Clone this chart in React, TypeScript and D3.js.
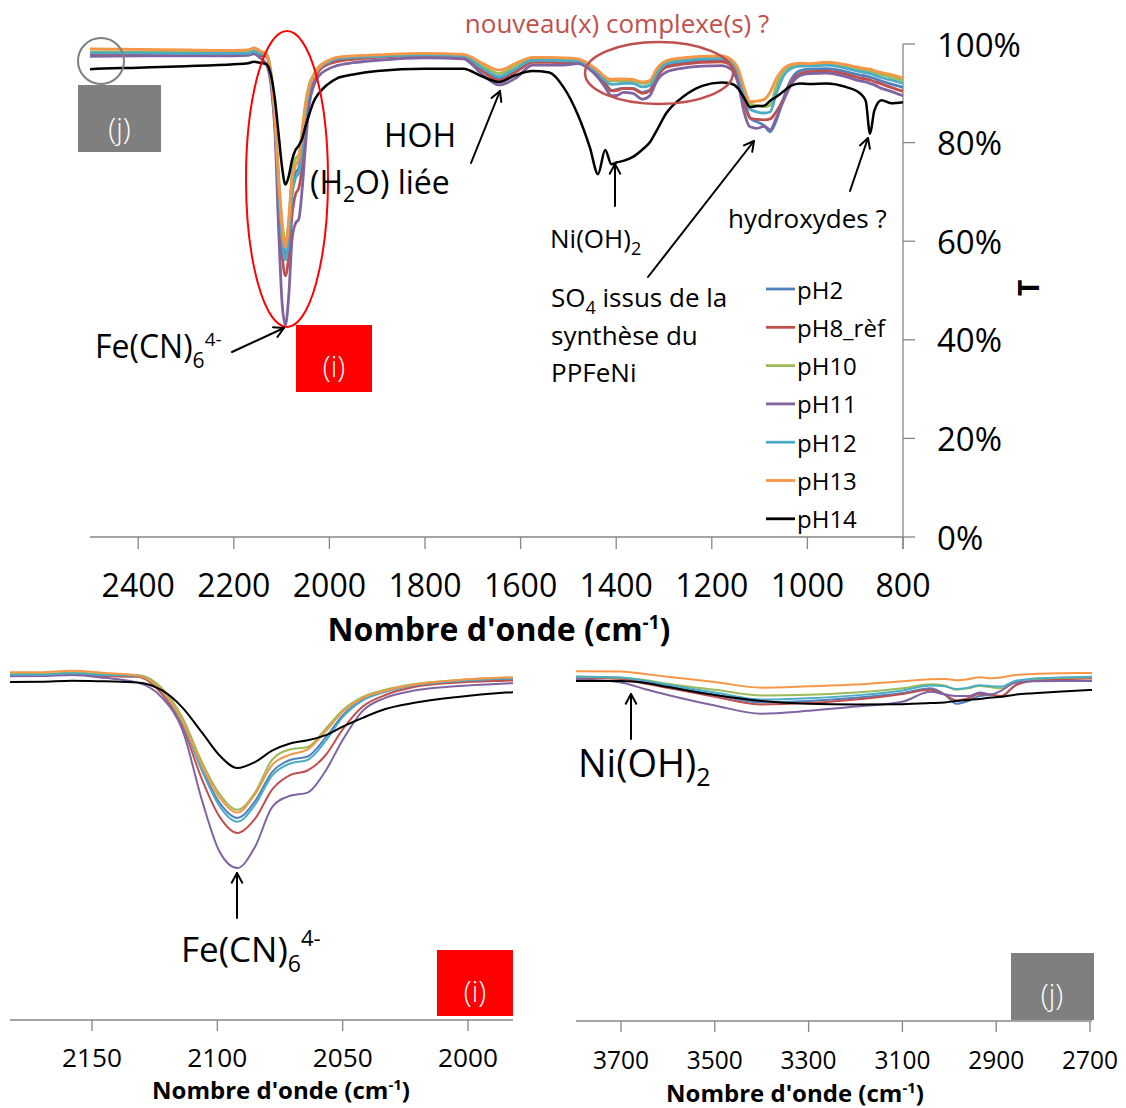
import React from "react";
import * as d3 from "d3";

// Wavenumber grid (cm-1), shared by all series
const wavenumbers = [
  3800, 3700, 3650, 3600, 3500, 3400, 3300, 3200, 3100, 3040, 3010, 2985, 2960, 2935, 2910, 2890, 2860, 2820, 2760, 2700,
  2600, 2500, 2400, 2300, 2200, 2170, 2158, 2145,
  2132, 2122, 2114, 2106, 2099, 2092, 2085, 2078, 2071, 2064, 2057, 2050, 2042, 2033, 2022, 2005, 1985,
  1950, 1900, 1800, 1720, 1680, 1645, 1610, 1575, 1540, 1510,
  1480, 1455, 1438, 1423, 1410, 1398, 1385, 1365, 1345, 1330, 1315, 1295, 1260, 1220, 1180, 1160, 1145, 1132, 1120, 1105, 1090, 1078, 1065, 1050, 1035, 1015, 995, 960, 920, 890, 878, 869, 860, 845, 825, 800,
];

// Transmittance (%) per series
const pH2 = [
  97.3, 97.0, 96.0, 94.8, 92.4, 90.2, 90.6, 91.5, 92.9, 94.2, 92.5, 89.8, 90.6, 92.0, 92.3, 91.8, 95.0, 96.6, 97.0, 97.2,
  97.6, 98.0, 98.0, 98.0, 98.0, 98.0, 98.4, 97.9,
  97.8, 93.2, 84.5, 71.0, 61.5, 57.3, 62.0, 70.5, 73.8, 74.8, 80.0, 86.5, 91.0, 93.3, 95.0, 96.2, 96.9,
  97.2, 97.5, 97.7, 97.5, 94.8, 93.0, 94.6, 96.5, 96.5, 96.4,
  96.4, 95.2, 93.8, 92.0, 90.6, 90.8, 91.0, 91.0, 90.2, 90.6, 93.5, 95.6, 96.2, 96.6, 96.7, 96.0, 93.6, 88.5, 85.0, 84.2, 83.4, 82.2, 84.5, 89.0, 92.6, 94.6, 94.9, 95.0, 94.4, 93.7, 93.5, 93.3, 93.0, 92.5, 91.9, 91.2,
];
const pH8 = [
  97.2, 96.9, 95.6, 94.3, 91.8, 89.6, 90.0, 91.0, 92.6, 93.8, 92.4, 90.8, 91.4, 92.6, 92.4, 92.0, 95.0, 96.4, 96.8, 97.0,
  97.4, 97.8, 97.8, 97.8, 97.8, 97.9, 98.2, 97.7,
  97.5, 92.5, 83.5, 68.0, 57.5, 53.0, 57.0, 65.5, 69.5, 70.8, 75.0, 82.5, 89.0, 92.3, 94.5, 95.8, 96.4,
  96.9, 97.3, 97.6, 97.4, 94.5, 92.6, 94.3, 96.3, 96.3, 96.2,
  96.3, 95.1, 93.7, 91.9, 90.5, 90.6, 91.0, 90.9, 90.0, 90.5, 93.3, 95.3, 95.9, 96.3, 96.4, 95.7, 93.2, 88.0, 85.0, 84.7, 84.6, 84.8, 86.3, 88.8, 92.0, 94.0, 94.4, 94.5, 93.9, 93.1, 92.9, 92.7, 92.4, 91.9, 91.2, 90.4,
];
const pH10 = [
  97.5, 97.2, 96.6, 95.5, 93.8, 92.2, 92.4, 93.0, 94.2, 95.4, 95.0, 93.8, 94.2, 94.9, 94.5, 94.2, 96.0, 96.8, 97.2, 97.4,
  97.9, 98.4, 98.4, 98.3, 98.3, 98.3, 98.7, 98.2,
  98.0, 94.2, 86.0, 73.0, 64.0, 59.6, 64.5, 74.0, 76.8, 77.5, 82.5, 88.0, 91.8, 93.8, 95.4, 96.5, 97.2,
  97.4, 97.6, 97.9, 97.8, 95.6, 94.0, 95.6, 97.0, 97.0, 96.9,
  96.8, 95.6, 94.4, 93.0, 92.5, 92.6, 92.6, 92.5, 92.0, 92.3, 94.6, 96.3, 96.9, 97.3, 97.4, 96.7, 94.6, 90.0, 87.8, 87.5, 87.3, 87.6, 91.5, 94.5, 95.5, 95.8, 95.8, 96.0, 95.5, 94.9, 94.7, 94.5, 94.2, 93.8, 93.3, 92.6,
];
const pH11 = [
  96.9, 95.9, 94.0, 92.3, 89.3, 87.0, 87.8, 89.0, 90.4, 93.2, 92.5, 92.0, 92.0, 93.0, 92.5, 93.5, 95.8, 96.2, 96.3, 96.3,
  97.0, 97.5, 97.6, 97.6, 97.6, 97.7, 98.0, 97.2,
  95.9, 91.5, 82.5, 62.0, 47.5, 43.0, 49.0, 60.5, 63.6, 64.5, 70.5, 79.5, 87.8, 91.5, 93.5, 94.8, 95.6,
  96.2, 96.7, 97.2, 97.0, 93.8, 91.7, 93.1, 95.7, 95.7, 95.7,
  96.0, 94.8, 93.2, 91.2, 89.5, 89.6, 90.2, 90.0, 88.8, 89.5, 92.5, 94.3, 95.1, 95.5, 95.6, 94.9, 92.0, 86.0, 83.2, 82.9, 83.3, 82.6, 85.0, 88.5, 91.6, 93.6, 94.0, 94.1, 93.4, 92.5, 92.3, 92.0, 91.7, 91.0, 90.4, 89.5,
];
const pH12 = [
  97.6, 97.3, 96.4, 95.2, 93.0, 91.0, 91.4, 92.2, 93.6, 95.0, 94.8, 94.0, 94.4, 95.1, 94.8, 94.7, 96.3, 97.0, 97.3, 97.5,
  97.8, 98.2, 98.2, 98.1, 98.1, 98.1, 98.5, 98.0,
  97.8, 93.2, 84.5, 70.5, 60.5, 56.2, 61.0, 69.5, 72.8, 73.8, 79.0, 86.0, 90.8, 93.2, 95.0, 96.2, 97.0,
  97.3, 97.5, 97.8, 97.6, 95.1, 93.4, 95.0, 96.7, 96.7, 96.6,
  96.6, 95.4, 94.1, 92.6, 91.8, 91.9, 92.0, 92.0, 91.3, 91.6, 94.0, 96.0, 96.6, 97.0, 97.1, 96.4, 94.2, 89.5, 86.8, 86.2, 86.0, 86.2, 90.0, 93.5, 95.0, 95.5, 95.5, 95.7, 95.1, 94.4, 94.2, 94.0, 93.7, 93.2, 92.7, 92.0,
];
const pH13 = [
  99.1, 99.0, 98.3, 97.5, 96.0, 94.4, 94.8, 95.3, 96.2, 96.8, 96.9, 96.5, 96.8, 97.4, 97.1, 97.3, 98.0, 98.3, 98.5, 98.6,
  98.8, 99.0, 98.9, 98.8, 98.7, 98.8, 99.2, 98.6,
  97.9, 93.5, 85.0, 72.0, 63.0, 58.8, 64.0, 72.5, 75.3, 76.8, 81.8, 87.5, 91.5, 93.5, 95.2, 96.5, 97.3,
  97.6, 97.8, 98.1, 97.9, 96.1, 94.7, 96.1, 97.3, 97.3, 97.2,
  97.0, 95.8, 94.6, 93.3, 92.8, 92.9, 92.9, 92.8, 92.3, 92.6, 95.0, 96.6, 97.2, 97.5, 97.6, 96.9, 95.0, 91.0, 88.3, 88.4, 88.8, 90.2, 93.0, 95.0, 95.8, 96.1, 96.0, 96.3, 95.8, 95.2, 95.0, 94.9, 94.6, 94.2, 93.8, 93.1,
];
const pH14 = [
  96.3, 96.3, 95.8, 94.6, 92.3, 90.6, 89.8, 89.6, 89.7, 90.0, 90.2, 90.6, 90.9, 91.2, 91.6, 91.8, 92.4, 92.8, 93.3, 93.7,
  94.3, 94.9, 95.2, 95.5, 95.9, 96.1, 96.4, 96.2,
  95.9, 93.6, 88.8, 81.5, 75.0, 71.5, 73.2, 76.5, 78.5, 79.4, 80.8, 83.3, 85.8, 88.3, 90.0, 91.7, 93.0,
  93.8, 94.5, 95.0, 95.0, 93.4, 92.3, 93.7, 94.5, 94.2, 91.2,
  85.6, 79.0, 73.6, 78.5, 75.6, 76.0, 76.3, 77.1, 78.6, 80.0, 82.5, 86.0, 89.3, 91.5, 92.2, 92.0, 91.0, 89.0, 87.2, 87.4, 87.5, 88.5, 89.3, 90.4, 91.5, 92.0, 91.9, 92.0, 91.3, 90.0, 88.5, 81.8, 86.5, 88.6, 88.0, 88.2,
];

const seriesNames = ["pH2", "pH8_rèf", "pH10", "pH11", "pH12", "pH13", "pH14"];
const seriesColors = ["#4f81bd", "#c0504d", "#9bbb59", "#8064a2", "#4bacc6", "#f79646", "#000000"];
const seriesValues = [pH2, pH8, pH10, pH11, pH12, pH13, pH14];

const mainXTicks = [2400, 2200, 2000, 1800, 1600, 1400, 1200, 1000, 800];
const mainYTicks = [0, 20, 40, 60, 80, 100];
const zoomITicks = [2150, 2100, 2050, 2000];
const zoomJTicks = [3700, 3500, 3300, 3100, 2900, 2700];

const FONT = "'Open Sans', 'Noto Sans', sans-serif";
const AXIS = "#868686";

function Arrow({ x1, y1, x2, y2, w = 2 }: { x1: number; y1: number; x2: number; y2: number; w?: number }) {
  const a = Math.atan2(y2 - y1, x2 - x1);
  const L = 11;
  const sp = 0.5;
  const p1 = [x2 - L * Math.cos(a - sp), y2 - L * Math.sin(a - sp)];
  const p2 = [x2 - L * Math.cos(a + sp), y2 - L * Math.sin(a + sp)];
  return (
    <g stroke="#000" strokeWidth={w} fill="none" strokeLinecap="round" strokeLinejoin="round">
      <line x1={x1} y1={y1} x2={x2} y2={y2} />
      <polyline points={`${p1[0]},${p1[1]} ${x2},${y2} ${p2[0]},${p2[1]}`} />
    </g>
  );
}

export default function App() {
  const xMain = d3.scaleLinear().domain([2500, 800]).range([90.4, 903]);
  const yMain = d3.scaleLinear().domain([0, 100]).range([537, 44]);
  const xI = d3.scaleLinear().domain([2150, 2000]).range([92, 468]);
  const xJ = d3.scaleLinear().domain([3700, 2700]).range([621, 1090]);
  const yZ = d3.scaleLinear().domain([0, 100]).range([1019, 668]);

  const makeLine = (xs: d3.ScaleLinear<number, number>, ys: d3.ScaleLinear<number, number>) =>
    d3
      .line<number>()
      .x((_, i) => xs(wavenumbers[i]))
      .y((d) => ys(d))
      .curve(d3.curveMonotoneX);

  const lineMain = makeLine(xMain, yMain);
  const lineI = makeLine(xI, yZ);
  const lineJ = makeLine(xJ, yZ);

  return (
    <svg
      width={1126}
      height={1108}
      style={{ position: "absolute", left: 0, top: 0, background: "#fff" }}
      fontFamily={FONT}
    >
      <defs>
        <clipPath id="clipMain">
          <rect x={90} y={0} width={813} height={545} />
        </clipPath>
        <clipPath id="clipI">
          <rect x={10} y={600} width={503} height={420} />
        </clipPath>
        <clipPath id="clipJ">
          <rect x={576} y={600} width={516} height={420} />
        </clipPath>
      </defs>
      <rect x={0} y={0} width={1126} height={1108} fill="#fff" />

      {/* ===== MAIN CHART ===== */}
      <line x1={90} y1={537} x2={903} y2={537} stroke={AXIS} strokeWidth={1.3} />
      <line x1={903} y1={44} x2={903} y2={549} stroke={AXIS} strokeWidth={1.3} />
      {mainXTicks.map((t) => (
        <g key={t}>
          <line x1={xMain(t)} y1={537} x2={xMain(t)} y2={549} stroke={AXIS} strokeWidth={1.3} />
          <text x={xMain(t)} y={597} fontSize={32} textAnchor="middle" fill="#000">
            {t}
          </text>
        </g>
      ))}
      {mainYTicks.map((t) => (
        <g key={t}>
          <line x1={903} y1={yMain(t)} x2={915} y2={yMain(t)} stroke={AXIS} strokeWidth={1.3} />
          <text x={937} y={yMain(t)} fontSize={33} dominantBaseline="central" fill="#000">
            {t}%
          </text>
        </g>
      ))}
      <text x={499} y={641} fontSize={32} fontWeight="bold" textAnchor="middle" fill="#000">
        Nombre d'onde (cm
        <tspan dy={-12} fontSize={19}>
          -1
        </tspan>
        <tspan dy={12}>)</tspan>
      </text>
      <text transform="translate(1039,288) rotate(-90)" fontSize={28} fontWeight="bold" textAnchor="middle" fill="#000">
        T
      </text>

      <g clipPath="url(#clipMain)">
        {seriesValues.map((vals, i) => (
          <path
            key={seriesNames[i]}
            d={lineMain(vals) || ""}
            fill="none"
            stroke={seriesColors[i]}
            strokeWidth={i === 6 ? 2.5 : 2.8}
            strokeLinejoin="round"
          />
        ))}
      </g>

      {seriesNames.map((n, i) => {
        const cy = 289 + i * 38.3;
        return (
          <g key={n}>
            <line x1={766} y1={cy} x2={795} y2={cy} stroke={seriesColors[i]} strokeWidth={2.8} />
            <text x={797} y={cy} fontSize={24} dominantBaseline="central" fill="#000">
              {n}
            </text>
          </g>
        );
      })}

      <circle cx={101} cy={61} r={23} fill="none" stroke="#7f7f7f" strokeWidth={2} />
      <rect x={78} y={85} width={83} height={67} fill="#7f7f7f" />
      <text x={119.5} y={127} fontSize={29} fill="#fff" textAnchor="middle" dominantBaseline="central" fontWeight={300}>
        (j)
      </text>
      <ellipse cx={287} cy={179} rx={41} ry={148} fill="none" stroke="#ff0000" strokeWidth={2} />
      <rect x={296} y={325} width={76} height={67} fill="#ff0000" />
      <text x={334} y={365} fontSize={29} fill="#fff" textAnchor="middle" dominantBaseline="central" fontWeight={300}>
        (i)
      </text>

      <text x={95} y={358} fontSize={32} fill="#000">
        Fe(CN)
        <tspan dy={10} fontSize={21}>
          6
        </tspan>
        <tspan dy={-22} fontSize={19}>
          4-
        </tspan>
      </text>
      <Arrow x1={232} y1={352} x2={284} y2={328} />

      <text x={420} y={147} fontSize={32} textAnchor="middle" fill="#000">
        HOH
      </text>
      <text x={310} y={194} fontSize={32} fill="#000">
        (H
        <tspan dy={8} fontSize={21}>
          2
        </tspan>
        <tspan dy={-8}>O) liée</tspan>
      </text>
      <Arrow x1={471} y1={163} x2={500} y2={91} />

      <text x={617} y={33} fontSize={26} textAnchor="middle" fill="#c0504d">
        nouveau(x) complexe(s) ?
      </text>
      <ellipse cx={659} cy={73} rx={74} ry={31} fill="none" stroke="#c0504d" strokeWidth={2.5} />

      <text x={550} y={248} fontSize={26} fill="#000">
        Ni(OH)
        <tspan dy={7} fontSize={18}>
          2
        </tspan>
      </text>
      <Arrow x1={615} y1={206} x2={615} y2={164} />

      <text x={551} y={307} fontSize={26} fill="#000">
        SO
        <tspan dy={7} fontSize={18}>
          4
        </tspan>
        <tspan dy={-7}> issus de la</tspan>
      </text>
      <text x={551} y={345} fontSize={26} fill="#000">
        synthèse du
      </text>
      <text x={551} y={382} fontSize={26} fill="#000">
        PPFeNi
      </text>
      <Arrow x1={648} y1={277} x2={754} y2={141} />

      <text x={728} y={228} fontSize={26} fill="#000">
        hydroxydes ?
      </text>
      <Arrow x1={850} y1={191} x2={868} y2={138} />

      {/* ===== BOTTOM LEFT (i) ===== */}
      <g clipPath="url(#clipI)">
        {seriesValues.map((vals, i) => (
          <path
            key={seriesNames[i]}
            d={lineI(vals) || ""}
            fill="none"
            stroke={seriesColors[i]}
            strokeWidth={2}
            strokeLinejoin="round"
          />
        ))}
      </g>
      <line x1={10} y1={1020} x2={513} y2={1020} stroke={AXIS} strokeWidth={1.3} />
      {zoomITicks.map((t) => (
        <g key={t}>
          <line x1={xI(t)} y1={1020} x2={xI(t)} y2={1031} stroke={AXIS} strokeWidth={1.3} />
          <text x={xI(t)} y={1067} fontSize={26} textAnchor="middle" textLength={60} lengthAdjust="spacingAndGlyphs" fill="#000">
            {t}
          </text>
        </g>
      ))}
      <text x={281} y={1099} fontSize={24} fontWeight="bold" textAnchor="middle" fill="#000">
        Nombre d'onde (cm
        <tspan dy={-9} fontSize={15}>
          -1
        </tspan>
        <tspan dy={9}>)</tspan>
      </text>
      <text x={181} y={962} fontSize={35} fill="#000">
        Fe(CN)
        <tspan dy={10} fontSize={23}>
          6
        </tspan>
        <tspan dy={-26} fontSize={22}>
          4-
        </tspan>
      </text>
      <Arrow x1={237} y1={918} x2={237} y2={873} />
      <rect x={437} y={950} width={76} height={66} fill="#ff0000" />
      <text x={475} y={990} fontSize={29} fill="#fff" textAnchor="middle" dominantBaseline="central" fontWeight={300}>
        (i)
      </text>

      {/* ===== BOTTOM RIGHT (j) ===== */}
      <g clipPath="url(#clipJ)">
        {seriesValues.map((vals, i) => (
          <path
            key={seriesNames[i]}
            d={lineJ(vals) || ""}
            fill="none"
            stroke={seriesColors[i]}
            strokeWidth={2}
            strokeLinejoin="round"
          />
        ))}
      </g>
      <line x1={576} y1={1021} x2={1092} y2={1021} stroke={AXIS} strokeWidth={1.3} />
      {zoomJTicks.map((t) => (
        <g key={t}>
          <line x1={xJ(t)} y1={1021} x2={xJ(t)} y2={1032} stroke={AXIS} strokeWidth={1.3} />
          <text x={xJ(t)} y={1069} fontSize={26} textAnchor="middle" textLength={56} lengthAdjust="spacingAndGlyphs" fill="#000">
            {t}
          </text>
        </g>
      ))}
      <text x={795} y={1102} fontSize={24} fontWeight="bold" textAnchor="middle" fill="#000">
        Nombre d'onde (cm
        <tspan dy={-9} fontSize={15}>
          -1
        </tspan>
        <tspan dy={9}>)</tspan>
      </text>
      <text x={578} y={777} fontSize={38} fill="#000">
        Ni(OH)
        <tspan dy={9} fontSize={25}>
          2
        </tspan>
      </text>
      <Arrow x1={631} y1={739} x2={631} y2={694} />
      <rect x={1011} y={953} width={83} height={67} fill="#7f7f7f" />
      <text x={1052} y={993} fontSize={29} fill="#fff" textAnchor="middle" dominantBaseline="central" fontWeight={300}>
        (j)
      </text>
    </svg>
  );
}
